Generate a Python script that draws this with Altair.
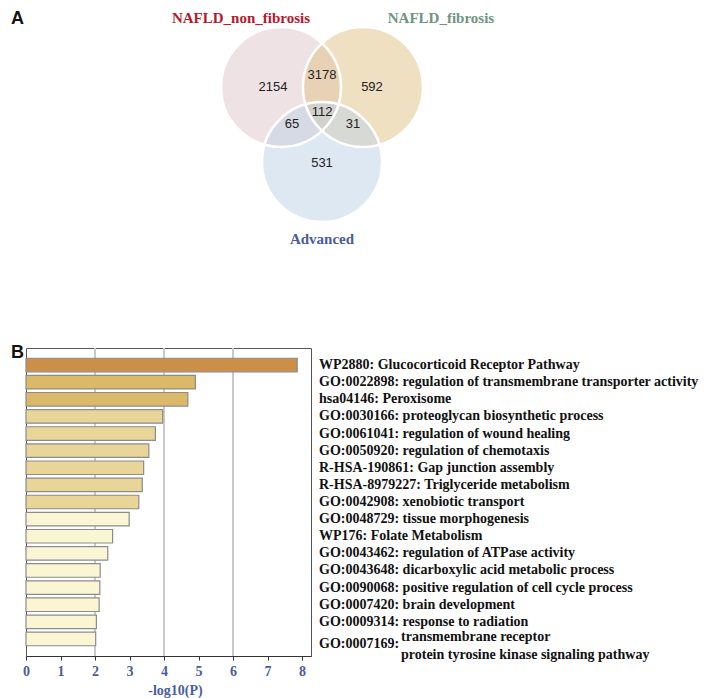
import altair as alt
import pandas as pd

# ---------------- Panel A : Venn diagram ----------------
set_names = ["NAFLD_non_fibrosis", "NAFLD_fibrosis", "Advanced"]
set_fill = ["#dfc5cb", "#e1c185", "#bbd1e5"]
set_label_colors = ["#b5192d", "#6f9582", "#4a5d9a"]

region_names = ["non_fibrosis only", "non_fibrosis & fibrosis", "fibrosis only",
                "all three", "non_fibrosis & Advanced", "fibrosis & Advanced", "Advanced only"]
region_counts = [2154, 3178, 592, 112, 65, 31, 531]

# Venn layout, in units of one circle radius
circle_cx = [-0.683, 0.683, 0.0]
circle_cy = [0.0, 0.0, 1.25]
region_x = [-0.817, 0.0, 0.833, 0.0, -0.5, 0.517, 0.0]
region_y = [0.0, -0.2, 0.0, 0.417, 0.617, 0.617, 1.267]
set_label_x = [-1.35, 1.983, 0.0]
set_label_y = [-1.15, -1.15, 2.533]

# ---------------- Panel B : enrichment bars ----------------
term_ids = ["WP2880", "GO:0022898", "hsa04146", "GO:0030166", "GO:0061041", "GO:0050920",
            "R-HSA-190861", "R-HSA-8979227", "GO:0042908", "GO:0048729", "WP176",
            "GO:0043462", "GO:0043648", "GO:0090068", "GO:0007420", "GO:0009314", "GO:0007169"]
term_names = ["Glucocorticoid Receptor Pathway",
              "regulation of transmembrane transporter activity",
              "Peroxisome",
              "proteoglycan biosynthetic process",
              "regulation of wound healing",
              "regulation of chemotaxis",
              "Gap junction assembly",
              "Triglyceride metabolism",
              "xenobiotic transport",
              "tissue morphogenesis",
              "Folate Metabolism",
              "regulation of ATPase activity",
              "dicarboxylic acid metabolic process",
              "positive regulation of cell cycle process",
              "brain development",
              "response to radiation",
              "transmembrane receptor\nprotein tyrosine kinase signaling pathway"]
neg_log_p = [7.86, 4.91, 4.69, 3.96, 3.75, 3.56, 3.41, 3.37, 3.27, 2.99,
             2.51, 2.37, 2.15, 2.14, 2.12, 2.04, 2.02]
x_ticks = [0, 1, 2, 3, 4, 5, 6, 7, 8]
grid_values = [2, 4, 6]
p_bins = [3, 4, 6]
bin_colors = ["#faf6d4", "#e9d597", "#dcb968", "#cd8f48"]

SERIF = "Liberation Serif"
SANS = "Liberation Sans"
PX = 60.0          # pixels per Venn radius unit
TOP = 75           # pixels from Venn plot top to upper circle centres
W1, H1 = 670, 250
W2, H2 = 285, 308

circles = pd.DataFrame({"set": set_names, "cx": circle_cx, "cy": circle_cy})
regions = pd.DataFrame({"region": region_names, "count": region_counts,
                        "rx": region_x, "ry": region_y})
set_labels = pd.DataFrame({"set": set_names, "lx": set_label_x, "ly": set_label_y})

vx = alt.Scale(domain=[-296 / PX, (W1 - 296) / PX], nice=False, zero=False)
vy = alt.Scale(domain=[-TOP / PX, (H1 - TOP) / PX], nice=False, zero=False, reverse=True)
circle_size = (2 * PX) ** 2   # symbol diameter = sqrt(size)

fills = alt.Chart(circles).mark_circle(opacity=0.5, strokeWidth=0).encode(
    x=alt.X("cx:Q", scale=vx, axis=None),
    y=alt.Y("cy:Q", scale=vy, axis=None),
    color=alt.Color("set:N", scale=alt.Scale(domain=set_names, range=set_fill), legend=None),
    size=alt.value(circle_size),
)
outlines = alt.Chart(circles).mark_point(shape="circle", filled=False, stroke="white",
                                          strokeWidth=2.5, opacity=1).encode(
    x=alt.X("cx:Q", scale=vx, axis=None),
    y=alt.Y("cy:Q", scale=vy, axis=None),
    size=alt.value(circle_size),
)
counts = alt.Chart(regions).mark_text(font=SANS, fontSize=13, color="#222222",
                                      baseline="middle").encode(
    x=alt.X("rx:Q", scale=vx, axis=None),
    y=alt.Y("ry:Q", scale=vy, axis=None),
    text="count:Q",
)
labels = alt.Chart(set_labels).mark_text(font=SERIF, fontSize=15, fontWeight="bold",
                                         baseline="middle").encode(
    x=alt.X("lx:Q", scale=vx, axis=None),
    y=alt.Y("ly:Q", scale=vy, axis=None),
    text="set:N",
    color=alt.Color("set:N", scale=alt.Scale(domain=set_names, range=set_label_colors),
                    legend=None),
)
letter_a = alt.Chart(pd.DataFrame({"t": ["A"]})).mark_text(
    font=SANS, fontSize=18, fontWeight="bold", align="left", baseline="top", color="#111111"
).encode(text="t:N", x=alt.value(-15), y=alt.value(-2))

venn = alt.layer(fills, outlines, counts, labels, letter_a).resolve_scale(
    color="independent").properties(width=W1, height=H1, view=alt.ViewBackground(stroke=None))

# ---------------- bars ----------------
terms = pd.DataFrame({"id": term_ids, "name": term_names, "value": neg_log_p})
terms["row"] = range(len(terms))
terms["wrapped"] = terms["name"].str.contains("\n")
terms["label"] = terms["id"] + ": " + terms["name"]
terms["idlabel"] = terms["id"] + ":"

yband = alt.Y("row:O", scale=alt.Scale(paddingInner=0.21, paddingOuter=0.6), axis=None)
bx = alt.Scale(domain=[0, 8.26], nice=False)
x_axis = alt.Axis(values=x_ticks, grid=False, title="-log10(P)",
                  labelOverlap=False, labelFlush=False,
                  domainColor="#333333", tickColor="#333333", tickSize=4,
                  labelFont=SERIF, labelFontWeight="bold", labelFontSize=14,
                  labelColor="#4a5d9a", labelPadding=4,
                  titleFont=SERIF, titleFontWeight="bold", titleFontSize=14,
                  titleColor="#4a5d9a", titlePadding=5, titleX=149)

grid = alt.Chart(pd.DataFrame({"g": grid_values})).mark_rule(
    color="#c9c9c9", strokeWidth=2).encode(x=alt.X("g:Q", scale=bx, axis=x_axis))

bars = alt.Chart(terms).mark_bar(stroke="#8c8c8c", strokeWidth=1.2).encode(
    x=alt.X("value:Q", scale=bx, axis=x_axis),
    y=yband,
    color=alt.Color("value:Q", scale=alt.Scale(type="threshold", domain=p_bins,
                                               range=bin_colors), legend=None),
)

FS = 14
text_plain = alt.Chart(terms).transform_filter("!datum.wrapped").mark_text(
    font=SERIF, fontSize=FS, fontWeight="bold", align="left", baseline="middle",
    color="#111111", dy=0).encode(x=alt.value(W2 + 8), y=yband, text="label:N")
text_wrap_id = alt.Chart(terms).transform_filter("datum.wrapped").mark_text(
    font=SERIF, fontSize=FS, fontWeight="bold", align="left", baseline="middle",
    color="#111111", dy=5).encode(x=alt.value(W2 + 8), y=yband, text="idlabel:N")
text_wrap_name = alt.Chart(terms).transform_filter("datum.wrapped").mark_text(
    font=SERIF, fontSize=FS, fontWeight="bold", align="left", baseline="middle",
    color="#111111", dy=-2, dx=82, lineBreak="\n", lineHeight=18).encode(
    x=alt.value(W2 + 8), y=yband, text="name:N")
letter_b = alt.Chart(pd.DataFrame({"t": ["B"]})).mark_text(
    font=SANS, fontSize=18, fontWeight="bold", align="left", baseline="middle", color="#111111"
).encode(text="t:N", x=alt.value(-15), y=alt.value(5))

barchart = alt.layer(grid, bars, text_plain, text_wrap_id, text_wrap_name, letter_b).properties(
    width=W2, height=H2, view=alt.ViewBackground(stroke="#555555", strokeWidth=1))

chart = alt.vconcat(venn, barchart, spacing=86, bounds="flush").properties(
    padding={"left": 2, "top": 2, "right": 0, "bottom": 0}
).configure_view(stroke=None)

chart.save("out.html", embed_options={"renderer": "svg", "actions": False})
